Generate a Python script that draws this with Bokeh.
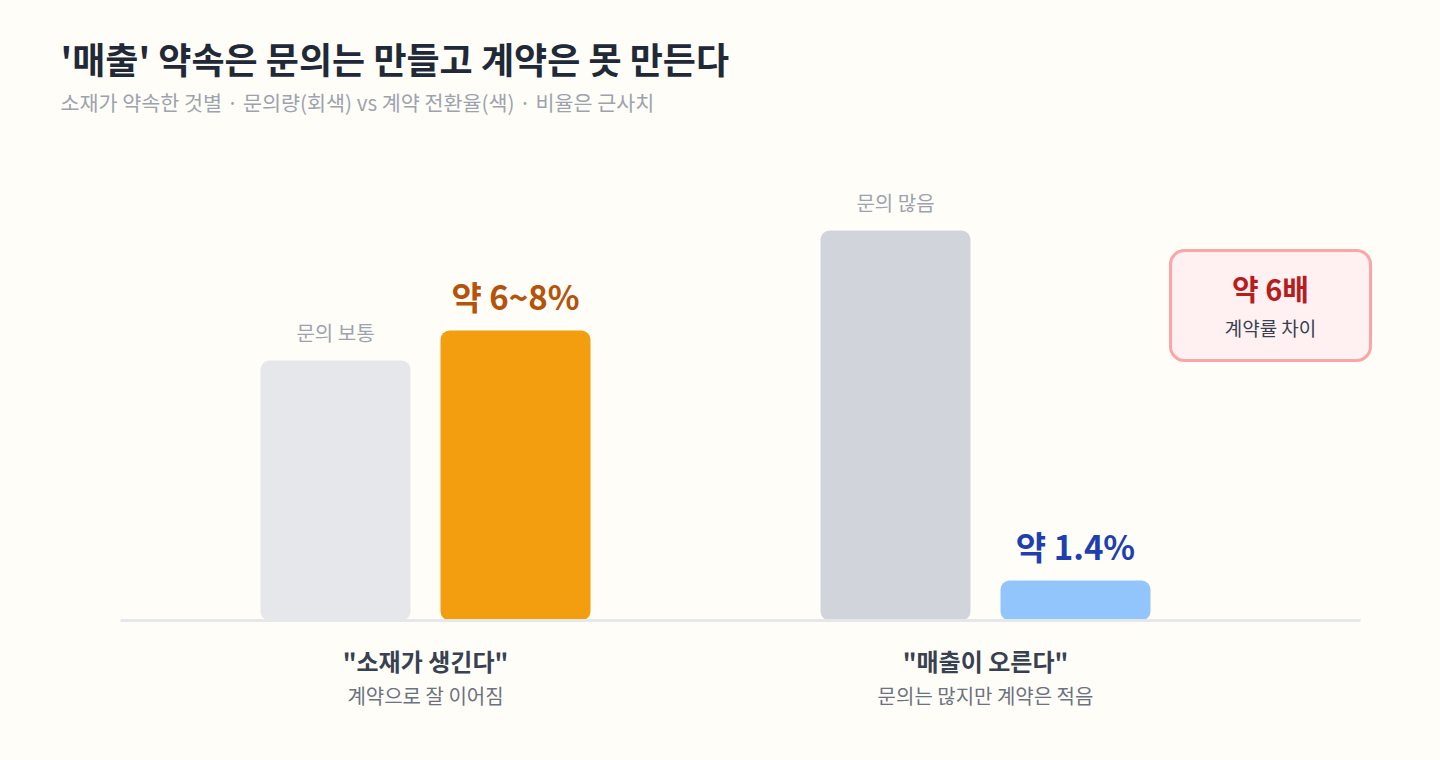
from bokeh.models import ColumnDataSource, Range1d, BoxAnnotation
from bokeh.plotting import figure
from bokeh.core.properties import value
from bokeh.embed import file_html
from bokeh.resources import INLINE

# data
groups = ['"소재가 생긴다"', '"매출이 오른다"']
group_notes = ["계약으로 잘 이어짐", "문의는 많지만 계약은 적음"]
inquiry_level = [65, 97.5]          # relative inquiry volume (0-100 scale)
inquiry_labels = ["문의 보통", "문의 많음"]
conversion_level = [72.5, 10]       # relative bar height for conversion
conversion_labels = ["약 6~8%", "약 1.4%"]
gap_value = "약 6배"
gap_note = "계약률 차이"

title = "'매출' 약속은 문의는 만들고 계약은 못 만든다"
subtitle = "소재가 약속한 것별 · 문의량(회색) vs 계약 전환율(색) · 비율은 근사치"

FONT = "Noto Sans CJK KR"
BG = "#FFFDF7"

# layout
W, H = 1440, 760
first_center, group_step, dodge, bar_w = 425, 560, 90, 150
centers = [first_center + group_step * i for i in range(len(groups))]

inq_colors = ["#E5E7EB", "#D1D5DB"]
conv_colors = ["#F39E0F", "#93C5FD"]
conv_text_colors = ["#B45309", "#1E40AF"]

p = figure(
    width=W, height=H,
    x_range=Range1d(0, W),
    y_range=Range1d(-35, 155),
    output_backend="svg",
    toolbar_location=None,
    min_border=0,
    background_fill_color=BG,
    border_fill_color=BG,
    outline_line_color=None,
)
p.axis.visible = False
p.grid.visible = False

inq = ColumnDataSource(dict(
    x=[c - dodge for c in centers], top=inquiry_level,
    label=inquiry_labels, color=inq_colors))
conv = ColumnDataSource(dict(
    x=[c + dodge for c in centers], top=conversion_level,
    label=conversion_labels, color=conv_colors, tcolor=conv_text_colors))
grp = ColumnDataSource(dict(x=centers, y=[0, 0], name=groups, note=group_notes))

p.vbar(x="x", top="top", bottom=0, width=bar_w, source=inq,
       fill_color="color", line_color=None, border_radius=9)
p.vbar(x="x", top="top", bottom=0, width=bar_w, source=conv,
       fill_color="color", line_color=None, border_radius=9)

# baseline
p.segment(x0=[120], y0=[0], x1=[1360], y1=[0], line_color="#E5E7EB", line_width=3)

p.text(x="x", y="top", text="label", source=inq, y_offset=-28,
       text_align="center", text_baseline="middle",
       text_font=value(FONT), text_font_size="20px", text_color="#9CA3AF")
p.text(x="x", y="top", text="label", source=conv, y_offset=-35,
       text_align="center", text_baseline="middle",
       text_font=value(FONT), text_font_size="33px", text_font_style="bold",
       text_color="tcolor")

p.text(x="x", y="y", text="name", source=grp, y_offset=40,
       text_align="center", text_baseline="middle",
       text_font=value(FONT), text_font_size="24px", text_font_style="bold",
       text_color="#374151")
p.text(x="x", y="y", text="note", source=grp, y_offset=75,
       text_align="center", text_baseline="middle",
       text_font=value(FONT), text_font_size="20px", text_color="#6B7280")

# title / subtitle
p.text(x=[60], y=[155], text=[title], y_offset=57,
       text_align="left", text_baseline="middle",
       text_font=value(FONT), text_font_size="36px", text_font_style="bold",
       text_color="#1F2937")
p.text(x=[60], y=[155], text=[subtitle], y_offset=101,
       text_align="left", text_baseline="middle",
       text_font=value(FONT), text_font_size="20.7px", text_color="#9CA3AF")

# callout box
box_top, box_bottom = 92.5, 65
p.add_layout(BoxAnnotation(left=1170, right=1370, top=box_top, bottom=box_bottom,
                           fill_color="#FFF1F2", fill_alpha=1,
                           line_color="#FCA5A5", line_width=3, line_alpha=1,
                           border_radius=14, level="underlay"))
p.text(x=[1270], y=[box_top], text=[gap_value], y_offset=37,
       text_align="center", text_baseline="middle",
       text_font=value(FONT), text_font_size="29px", text_font_style="bold",
       text_color="#B91C1C")
p.text(x=[1270], y=[box_top], text=[gap_note], y_offset=77,
       text_align="center", text_baseline="middle",
       text_font=value(FONT), text_font_size="19px", text_color="#374151")

html = file_html(p, INLINE)
html = html.replace("<body>", '<body style="background:%s">' % BG, 1)
open("out.html", "w").write(html)
